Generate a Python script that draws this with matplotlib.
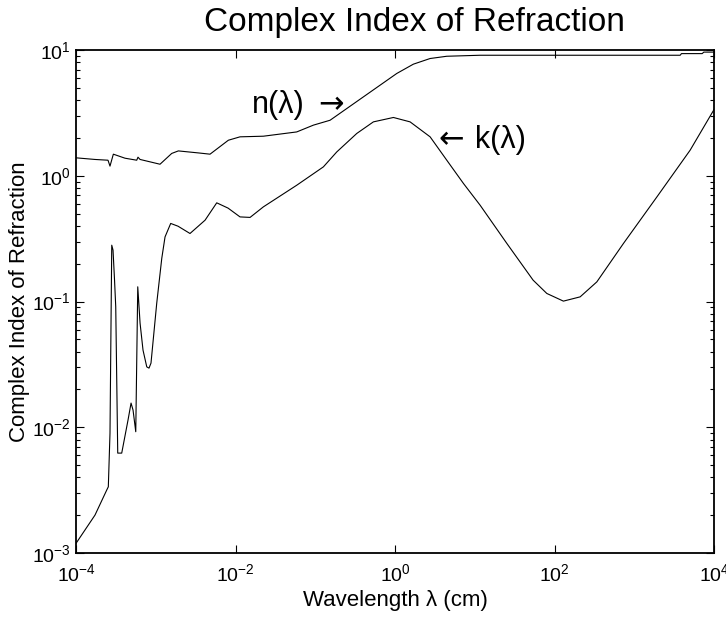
import numpy as np
import matplotlib
matplotlib.use("Agg")
from matplotlib import pyplot as plt
from matplotlib.ticker import LogLocator, NullLocator, FixedLocator

plt.rcParams['font.family'] = ['Liberation Sans', 'DejaVu Sans']
plt.rcParams['mathtext.fontset'] = 'custom'
plt.rcParams['mathtext.rm'] = 'Liberation Sans'
plt.rcParams['mathtext.it'] = 'Liberation Sans'

# values, as log10 (wavelength in cm)
log_wl_n = [-4.000, -3.762, -3.599, -3.574, -3.532, -3.386, -3.239, -3.223,
            -3.197, -2.947, -2.800, -2.717, -2.466, -2.320, -2.090, -1.944,
            -1.651, -1.233, -1.024, -0.815, -0.606, -0.397, -0.188, 0.021,
            0.229, 0.439, 0.648, 1.066, 3.574, 3.590, 3.850, 3.870, 4.000]
log_n = [0.144, 0.131, 0.125, 0.078, 0.173, 0.141, 0.125, 0.149,
         0.131, 0.093, 0.179, 0.199, 0.183, 0.173, 0.284, 0.311,
         0.316, 0.350, 0.404, 0.443, 0.536, 0.629, 0.722, 0.815,
         0.889, 0.934, 0.952, 0.960, 0.960, 0.973, 0.973, 0.985, 0.985]

log_wl_k = [-4.000, -3.762, -3.615, -3.595, -3.574, -3.552, -3.536, -3.517,
            -3.502, -3.477, -3.427, -3.348, -3.310, -3.285, -3.251, -3.226,
            -3.197, -3.160, -3.113, -3.085, -3.060, -2.988, -2.925, -2.884,
            -2.813, -2.721, -2.571, -2.382, -2.236, -2.094, -1.944, -1.818,
            -1.651, -1.233, -0.899, -0.731, -0.480, -0.272, -0.021, 0.188,
            0.439, 0.648, 0.857, 1.066, 1.401, 1.730, 1.902, 2.110,
            2.320, 2.529, 2.863, 3.282, 3.699, 4.000]
log_k = [-2.923, -2.698, -2.499, -2.473, -2.046, -0.551, -0.590, -0.829,
         -1.041, -2.205, -2.205, -1.942, -1.807, -1.863, -2.035, -0.882,
         -1.171, -1.386, -1.519, -1.529, -1.489, -1.012, -0.656, -0.485,
         -0.378, -0.400, -0.458, -0.352, -0.214, -0.256, -0.326, -0.330,
         -0.246, -0.074, 0.072, 0.191, 0.338, 0.430, 0.465, 0.430,
         0.311, 0.125, -0.060, -0.233, -0.537, -0.829, -0.935, -0.996,
         -0.962, -0.843, -0.537, -0.167, 0.205, 0.530]

wl_n = 10 ** np.array(log_wl_n)
n_val = 10 ** np.array(log_n)
wl_k = 10 ** np.array(log_wl_k)
k_val = 10 ** np.array(log_k)

fig = plt.figure(figsize=(7.26, 6.2), dpi=100)
ax = fig.add_axes([0.1047, 0.108, 0.879, 0.811])

ax.loglog(wl_n, n_val, color="black", lw=0.8)
ax.loglog(wl_k, k_val, color="black", lw=0.8)

ax.set_xlim(1e-4, 1e4)
ax.set_ylim(1e-3, 1e1)

ax.xaxis.set_major_locator(FixedLocator([1e-4, 1e-2, 1e0, 1e2, 1e4]))
ax.xaxis.set_minor_locator(NullLocator())
ax.set_xticklabels([r"$10^{-4}$", r"$10^{-2}$", r"$10^{0}$", r"$10^{2}$", r"$10^{4}$"])
ax.set_yticks([1e-3, 1e-2, 1e-1, 1e0, 1e1])
ax.yaxis.set_minor_locator(LogLocator(base=10, subs=np.arange(2, 10), numticks=20))
ax.set_yticklabels([r"$10^{-3}$", r"$10^{-2}$", r"$10^{-1}$", r"$10^{0}$", r"$10^{1}$"])

ax.tick_params(which="both", direction="in", top=True, right=True, labelsize=14)
ax.tick_params(which="major", length=6, width=0.8)
ax.tick_params(which="minor", length=3, width=0.8)
ax.tick_params(axis="x", pad=7)
for s in ax.spines.values():
    s.set_linewidth(1.3)

ax.set_xlabel("Wavelength \u03bb (cm)", fontsize=16, labelpad=4)
ax.set_ylabel("Complex Index of Refraction", fontsize=16, labelpad=2)
ax.set_title("Complex Index of Refraction", fontsize=24, pad=14, x=0.53)

ax.text(0.016, 3.66, "n(\u03bb)", fontsize=22, ha="left", va="center")
ax.text(0.157, 3.7, "\u2192", fontsize=22, ha="center", va="center", family="DejaVu Sans")
ax.text(5.04, 1.95, "\u2190", fontsize=22, ha="center", va="center", family="DejaVu Sans")
ax.text(10.07, 1.92, "k(\u03bb)", fontsize=22, ha="left", va="center")

fig.savefig("out.png", dpi=100)
